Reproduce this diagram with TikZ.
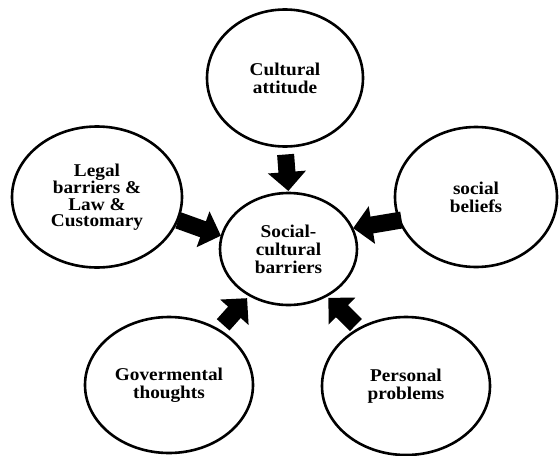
\documentclass[tikz,border=0pt]{standalone}
\usepackage{fontspec}
\setmainfont{Liberation Serif}[FakeStretch=1.07]
\usetikzlibrary{shapes.geometric,arrows.meta}

\begin{document}
\begin{tikzpicture}[x=1pt,y=-1pt,
  bubble/.style={draw, ellipse, line width=2.6pt, inner sep=0pt, outer sep=0pt,
    align=center, font=\fontsize{18}{18}\selectfont\bfseries},
  push/.style={line width=17pt, -{Triangle[width=37pt,length=19pt]}}]
\useasboundingbox (0,0) rectangle (559,455);

% central factor
\node[bubble, minimum width=137pt, minimum height=112pt] (core) at (288.5,249)
  {Social-\\cultural\\barriers};

% surrounding factors
\node[bubble, minimum width=156pt, minimum height=137pt] (cult) at (285,78)
  {Cultural\\attitude};
\node[bubble, minimum width=170pt, minimum height=141pt,
  font=\fontsize{18}{16.4}\selectfont\bfseries] (legal) at (97,197)
  {Legal\\barriers \&\\Law \&\\Customary};
\node[bubble, minimum width=162pt, minimum height=140pt] (soc) at (476,197)
  {social\\beliefs};
\node[bubble, minimum width=168pt, minimum height=136pt] (gov) at (169,385)
  {Govermental\\thoughts};
\node[bubble, minimum width=168pt, minimum height=138pt] (pers) at (406,386)
  {Personal\\problems};

% block arrows pointing into the centre
\draw[push, shorten <=8pt, shorten >=2pt] (cult.south) -- (core.north);
\draw[push, shorten <=1pt, shorten >=1pt] (legal.-16) -- (core.169);
\draw[push, shorten <=-2pt, shorten >=1pt] (soc.-163.5) -- (core.18);
\draw[push, shorten <=7pt, shorten >=4pt] (gov.48) -- (core.-130);
\draw[push, shorten <=5pt, shorten >=3pt] (pers.129) -- (core.-51);
\end{tikzpicture}
\end{document}
